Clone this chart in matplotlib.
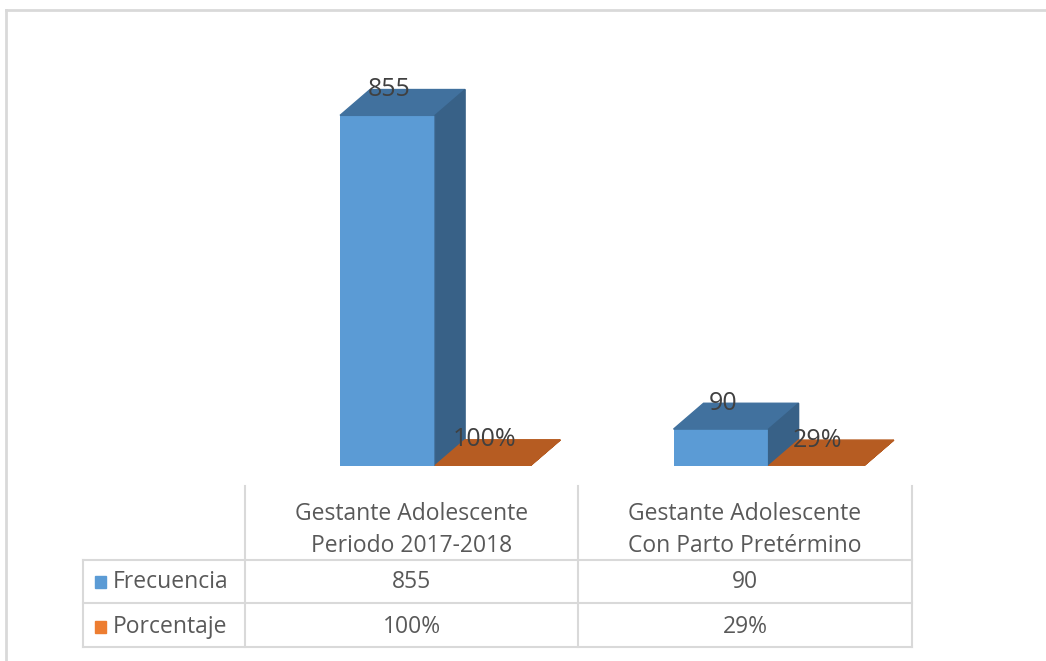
import numpy as np
import matplotlib
matplotlib.use("Agg")
import matplotlib.pyplot as plt
from matplotlib.patches import Polygon

plt.rcParams['font.family'] = ['Open Sans', 'DejaVu Sans']

# data
categorias = [["Gestante Adolescente", "Periodo 2017-2018"],
              ["Gestante Adolescente", "Con Parto Pretérmino"]]
series = ["Frecuencia", "Porcentaje"]
frecuencia = [855, 90]
porcentaje = [1.00, 0.29]

# colours (front, top, side) per series
col_blue = ("#5b9bd5", "#41719e", "#386187")
col_orange = ("#b65c22", "#b65c22", "#b65c22")
legend_cols = ["#5b9bd5", "#ed7d31"]
txt_col = "#595959"
lbl_col = "#404040"
grid_col = "#d9d9d9"

W, H = 1046, 661
fig = plt.figure(figsize=(W / 100, H / 100), dpi=100)

# overlay axes in pixel coords (origin top-left) for frame and table
ov = fig.add_axes([0, 0, 1, 1])
ov.set_xlim(0, W)
ov.set_ylim(H, 0)
ov.axis('off')
ov.plot([6, W + 5], [10, 10], color=grid_col, lw=2)
ov.plot([6, 6], [10, H + 5], color=grid_col, lw=2)

# bar axes: categories at 0 and 1, cells from -0.5 to 1.5
ax = fig.add_axes([245 / W, (H - 466) / H, (912 - 245) / W, (466 - 60) / H])
ax.set_xlim(-0.5, 1.5)
ax.set_ylim(0, 990)
ax.axis('off')

x = np.arange(len(frecuencia))
bw = 0.285
dx, dy = 0.09, 63  # depth of the 3d look in data units


def bar3d(x0, v, cols, label):
    front, top, side = cols
    ax.bar(x0, v, width=bw, align='edge', color=front, zorder=2)
    x1 = x0 + bw
    ax.add_patch(Polygon([(x0, v), (x1, v), (x1 + dx, v + dy), (x0 + dx, v + dy)],
                         closed=True, color=top, zorder=3))
    ax.add_patch(Polygon([(x1, 0), (x1, v), (x1 + dx, v + dy), (x1 + dx, dy)],
                         closed=True, color=side, zorder=3))
    ax.text(x0 + bw / 2 + 0.005, v + dy, label, ha='center', va='center',
            fontsize=18, color=lbl_col, zorder=10)


for i in range(len(x)):
    bar3d(x[i] - 0.215, frecuencia[i], col_blue, str(frecuencia[i]))
for i in range(len(x)):
    bar3d(x[i] + 0.07, porcentaje[i], col_orange, f"{porcentaje[i]:.0%}")

# data table
colx = [245, 578, 912]
ov.plot([83, 912], [560, 560], color=grid_col, lw=1.5)
ov.plot([83, 912], [603, 603], color=grid_col, lw=1.5)
ov.plot([83, 912], [647, 647], color=grid_col, lw=1.5)
for cx in colx:
    ov.plot([cx, cx], [486, 647], color=grid_col, lw=1.5)
ov.plot([83, 83], [560, 647], color=grid_col, lw=1.5)

fs = 16.5
for i, cat in enumerate(categorias):
    cx = (colx[i] + colx[i + 1]) / 2
    ov.text(cx, 514, cat[0], ha='center', va='center', fontsize=fs, color=txt_col)
    ov.text(cx, 546, cat[1], ha='center', va='center', fontsize=fs, color=txt_col)
    ov.text(cx, 582, str(frecuencia[i]), ha='center', va='center', fontsize=fs, color=txt_col)
    ov.text(cx, 627, f"{porcentaje[i]:.0%}", ha='center', va='center', fontsize=fs, color=txt_col)

for j, (name, yy) in enumerate(zip(series, [582, 627])):
    ov.add_patch(plt.Rectangle((95, yy - 6), 11, 12, color=legend_cols[j]))
    ov.text(113, yy, name, ha='left', va='center', fontsize=fs, color=txt_col)

fig.savefig("out.png", dpi=100)
